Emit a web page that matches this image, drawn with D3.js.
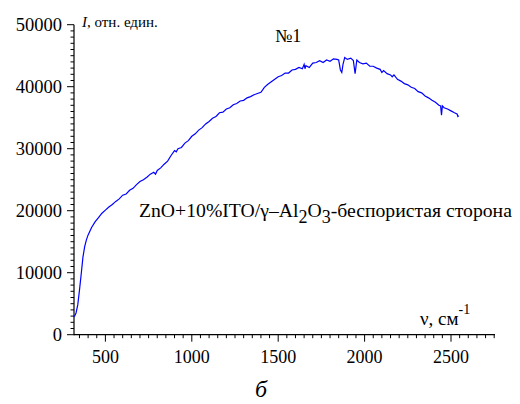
<!DOCTYPE html>
<html><head><meta charset="utf-8">
<script src="https://cdn.jsdelivr.net/npm/d3@7"></script>
<style>body{margin:0;background:#fff;}</style>
</head><body>
<svg id="c" width="520" height="404"></svg>
<script>
const wavenumber = [320,330,340,350,360,370,380,390,400,420,440,460,480,500,520,540,560,580,600,620,640,660,680,700,720,740,760,780,790,800,820,840,860,880,900,910,920,940,960,980,1000,1020,1040,1060,1080,1100,1120,1140,1160,1180,1200,1220,1240,1260,1280,1300,1320,1340,1360,1380,1400,1410,1420,1440,1460,1480,1500,1520,1540,1560,1580,1600,1620,1640,1650,1655,1660,1680,1700,1720,1740,1760,1780,1800,1820,1840,1850,1860,1868,1875,1885,1900,1920,1935,1945,1955,1970,1990,2010,2030,2050,2070,2090,2100,2110,2130,2150,2160,2170,2190,2210,2230,2250,2270,2290,2310,2330,2350,2370,2390,2410,2430,2440,2445,2450,2460,2480,2500,2520,2535,2540,2545];
const intensity = [2900,3500,4800,7200,9800,12500,14200,15300,16100,17300,18200,18900,19600,20100,20600,21000,21500,21900,22500,22700,23300,23600,24200,24700,25000,25400,25900,26200,25900,26500,26900,27500,28000,28900,29700,29500,30000,30200,30900,31300,32000,32400,33000,33400,34000,34400,34900,35200,35800,35900,36400,36600,37100,37300,37700,37800,38200,38400,38700,38900,39100,39500,39900,40400,40800,41200,41600,41800,42200,42200,42700,42800,43100,42900,43600,42900,43400,43100,43800,43900,44200,43900,44300,44100,44500,44400,44300,42700,42300,43600,44700,44400,44600,44200,42100,44300,43900,43700,43800,43300,43300,43000,42800,42300,42600,42100,41900,41600,41900,41200,40900,40500,40300,39900,39700,39200,39000,38500,38200,37800,37500,37000,36900,35400,36900,36600,36400,36100,35800,35600,35200,35300];
const xTicks = [500,1000,1500,2000,2500];
const yTicks = [0,10000,20000,30000,40000,50000];
const FF = "'Liberation Serif', 'DejaVu Serif', 'Noto Serif', 'Times New Roman', serif";

const svg = d3.select("#c");
const x = d3.scaleLinear().domain([320,2750]).range([74.3,494.2]);
const y = d3.scaleLinear().domain([0,50000]).range([334.7,24.7]);

const xMinor = d3.range(350,2751,50);
const gx = svg.append("g").attr("transform","translate(0,334.7)");
gx.append("line").attr("x1",74).attr("x2",495).attr("stroke","#000").attr("stroke-width",1.2);
gx.selectAll(".mn").data(xMinor).join("line").attr("x1",d=>x(d)).attr("x2",d=>x(d)).attr("y1",0).attr("y2",d=>xTicks.includes(d)?7:3.5).attr("stroke","#000").attr("stroke-width",1);
gx.selectAll("text").data(xTicks).join("text").attr("x",d=>x(d)).attr("y",28).attr("text-anchor","middle").style("font-family",FF).style("font-size","18px").text(d=>d);

const yMinor = d3.range(0,50001,1000);
const gy = svg.append("g").attr("transform","translate(74,0)");
gy.append("line").attr("y1",y(50000)).attr("y2",335.3).attr("stroke","#000").attr("stroke-width",1.2);
gy.selectAll(".mn").data(yMinor).join("line").attr("y1",d=>y(d)).attr("y2",d=>y(d)).attr("x1",0).attr("x2",d=>yTicks.includes(d)?-7:-3.5).attr("stroke","#000").attr("stroke-width",1);
gy.selectAll("text").data(yTicks).join("text").attr("x",-12).attr("y",d=>y(d)).attr("dy","0.34em").attr("text-anchor","end").style("font-family",FF).style("font-size","18.5px").text(d=>d);

const pts = wavenumber.map((w,i)=>[w,intensity[i]]);
svg.append("path").datum(pts).attr("fill","none").attr("stroke","#0000ff").attr("stroke-width",1.2)
  .attr("d",d3.line().x(d=>x(d[0])).y(d=>y(d[1])));

const yl = svg.append("text").attr("x",82).attr("y",27).style("font-family",FF).style("font-size","15px");
yl.append("tspan").style("font-style","italic").text("I");
yl.append("tspan").text(", отн. един.");

svg.append("text").attr("x",275).attr("y",42).style("font-family",FF).style("font-size","18px").text("№1");

const an = svg.append("text").attr("x",139).attr("y",217).style("font-family",FF).style("font-size","19.7px");
an.append("tspan").text("ZnO+10%ITO/γ–Al");
an.append("tspan").attr("dy",6).style("font-size","18px").text("2");
an.append("tspan").attr("dy",-6).text("O");
an.append("tspan").attr("dy",6).style("font-size","18px").text("3");
an.append("tspan").attr("dy",-6).text("-беспористая сторона");

const xl = svg.append("text").attr("x",420).attr("y",325).style("font-family",FF).style("font-size","19px");
xl.append("tspan").text("ν, см");
xl.append("tspan").attr("dy",-11).style("font-size","14px").text("-1");

svg.append("text").attr("x",255).attr("y",397).style("font-family",FF).style("font-size","24px").style("font-style","italic").text("б");
</script>
</body></html>
